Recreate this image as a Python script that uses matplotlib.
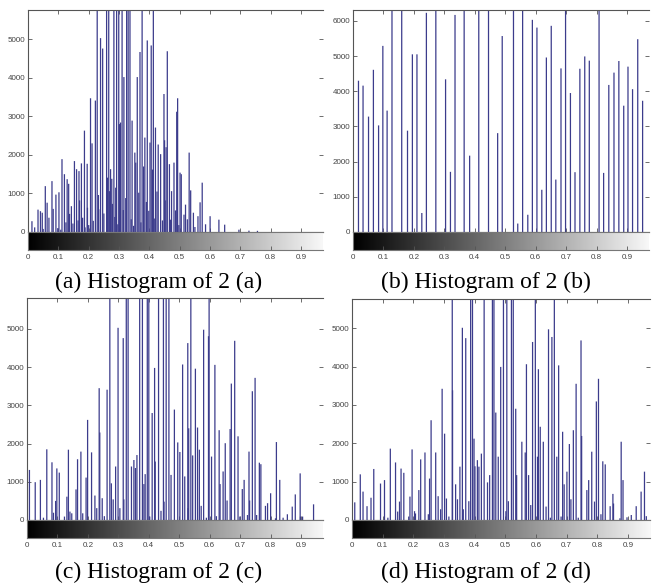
import numpy as np
import matplotlib.pyplot as plt

plt.rcParams['font.family'] = ['Liberation Sans', 'DejaVu Sans']

# bin positions / counts
# (bars that run off the top are given a value above the axis limit)
hist_a_x = [0.013, 0.022, 0.033, 0.041, 0.047, 0.057, 0.063, 0.069, 0.079, 0.083,
            0.092, 0.102, 0.112, 0.120, 0.129, 0.134, 0.143, 0.153, 0.160, 0.168,
            0.176, 0.186, 0.195, 0.206, 0.211, 0.222, 0.228, 0.239, 0.246, 0.259,
            0.266, 0.272, 0.283, 0.292, 0.299, 0.305, 0.310, 0.316, 0.325, 0.330,
            0.336, 0.343, 0.352, 0.360, 0.369, 0.376, 0.385, 0.393, 0.402, 0.406,
            0.413, 0.420, 0.429, 0.437, 0.448, 0.459, 0.466, 0.473, 0.481, 0.490,
            0.493, 0.501, 0.505, 0.514, 0.519, 0.531, 0.536, 0.545, 0.560, 0.567,
            0.574, 0.600, 0.629, 0.648, 0.695, 0.728, 0.756,
            0.180, 0.196, 0.238, 0.262, 0.276, 0.289, 0.301, 0.355, 0.381, 0.410,
            0.450, 0.455, 0.050, 0.098, 0.108, 0.125, 0.137, 0.148, 0.165, 0.170,
            0.188, 0.200, 0.215, 0.232, 0.250, 0.268, 0.278, 0.286, 0.296, 0.314,
            0.322, 0.340, 0.348, 0.365, 0.372, 0.390, 0.398, 0.416, 0.425, 0.443,
            0.452, 0.470, 0.486, 0.497, 0.525, 0.550, 0.585]
hist_a_y = [280, 120, 580, 540, 500, 1190, 760, 370, 1320, 600,
            970, 1030, 1890, 1500, 1370, 1250, 670, 1840, 1630, 1580,
            1780, 2630, 1770, 3470, 2300, 3410, 6200, 5030, 4760, 6200,
            6200, 1630, 6200, 6200, 6200, 2840, 6200, 4020, 6200, 6200,
            6200, 2890, 2060, 4020, 4670, 6200, 2450, 4970, 2320, 4840,
            6200, 2710, 2270, 2020, 3580, 4690, 1760, 1060, 1800, 3120,
            3470, 1540, 1500, 450, 710, 2060, 1080, 500, 410, 770,
            1280, 410, 320, 190, 60, 35, 30,
            370, 630, 590, 1410, 1380, 1150, 2800, 1800, 1700, 1620,
            2380, 2200, 80, 100, 60, 250, 470, 220, 300, 820,
            120, 180, 290, 960, 480, 1060, 730, 390, 200, 570,
            880, 330, 160, 1020, 250, 780, 550, 350, 1050, 300,
            820, 320, 560, 180, 330, 130, 200]

hist_b_x = [0.018, 0.033, 0.051, 0.067, 0.084, 0.098, 0.112, 0.128, 0.160, 0.179,
            0.195, 0.210, 0.226, 0.241, 0.272, 0.304, 0.320, 0.335, 0.365, 0.383,
            0.413, 0.445, 0.475, 0.490, 0.527, 0.541, 0.557, 0.574, 0.589, 0.604,
            0.620, 0.635, 0.651, 0.666, 0.683, 0.698, 0.714, 0.729, 0.745, 0.761,
            0.776, 0.808, 0.823, 0.840, 0.857, 0.873, 0.889, 0.903, 0.918, 0.935,
            0.951]
hist_b_y = [4300, 4160, 3280, 4610, 3030, 5290, 3450, 6500, 6500, 2880,
            5050, 5050, 540, 6230, 6500, 4340, 1710, 6170, 6500, 2170,
            6500, 6500, 2810, 5570, 6500, 240, 6500, 490, 6030, 5810,
            1200, 4960, 5860, 1490, 4650, 6500, 3950, 1700, 4640, 4990,
            4870, 6500, 1680, 4180, 4530, 4860, 3590, 4700, 4060, 5480,
            3730]

hist_c_x = [0.008, 0.027, 0.044, 0.054, 0.065, 0.082, 0.087, 0.094, 0.098, 0.106,
            0.123, 0.131, 0.136, 0.141, 0.147, 0.161, 0.166, 0.177, 0.183, 0.194,
            0.199, 0.212, 0.223, 0.229, 0.237, 0.239, 0.247, 0.254, 0.263, 0.272,
            0.277, 0.283, 0.291, 0.299, 0.305, 0.316, 0.318, 0.326, 0.332, 0.343,
            0.351, 0.356, 0.361, 0.370, 0.379, 0.384, 0.388, 0.395, 0.400, 0.403,
            0.411, 0.419, 0.421, 0.432, 0.440, 0.448, 0.450, 0.457, 0.466, 0.473,
            0.484, 0.495, 0.502, 0.511, 0.518, 0.528, 0.529, 0.531, 0.538, 0.544,
            0.553, 0.560, 0.566, 0.572, 0.580, 0.589, 0.596, 0.598, 0.606, 0.617,
            0.622, 0.631, 0.634, 0.644, 0.651, 0.657, 0.667, 0.671, 0.682, 0.693,
            0.699, 0.707, 0.713, 0.724, 0.729, 0.731, 0.740, 0.749, 0.754, 0.763,
            0.768, 0.783, 0.790, 0.800, 0.816, 0.819, 0.830, 0.841, 0.855, 0.871,
            0.881, 0.897, 0.898, 0.905, 0.941]
hist_c_y = [1310, 990, 1050, 60, 1850, 1510, 190, 500, 1350, 1240,
            90, 610, 1840, 220, 175, 800, 1590, 1790, 175, 1110,
            2620, 1770, 640, 310, 3450, 2290, 570, 100, 3410, 6200,
            960, 540, 1400, 5030, 310, 4760, 540, 6200, 6200, 1400,
            1570, 1360, 1700, 6200, 6200, 940, 1200, 6200, 6200, 90,
            2800, 3980, 1530, 6200, 240, 6200, 480, 6200, 6200, 1180,
            2890, 2030, 1780, 4070, 1140, 4630, 310, 2400, 6200, 1690,
            3960, 2420, 1840, 370, 4980, 60, 4810, 6200, 1660, 4060,
            100, 2350, 940, 1270, 2010, 510, 2380, 3570, 4690, 2190,
            90, 810, 1050, 130, 1790, 510, 3370, 3720, 130, 1500,
            1460, 370, 440, 700, 45, 2040, 1050, 60, 150, 350,
            670, 1220, 90, 90, 410]

hist_d_x = [0.009, 0.027, 0.036, 0.049, 0.062, 0.071, 0.093, 0.106, 0.117, 0.125,
            0.142, 0.149, 0.155, 0.160, 0.169, 0.185, 0.189, 0.196, 0.204, 0.207,
            0.218, 0.224, 0.238, 0.249, 0.253, 0.258, 0.273, 0.281, 0.289, 0.294,
            0.302, 0.308, 0.316, 0.327, 0.328, 0.338, 0.344, 0.352, 0.360, 0.363,
            0.371, 0.381, 0.387, 0.393, 0.398, 0.401, 0.409, 0.414, 0.422, 0.431,
            0.442, 0.449, 0.458, 0.463, 0.469, 0.477, 0.485, 0.494, 0.502, 0.505,
            0.510, 0.520, 0.526, 0.534, 0.537, 0.554, 0.565, 0.569, 0.576, 0.583,
            0.589, 0.598, 0.605, 0.608, 0.614, 0.624, 0.633, 0.641, 0.647, 0.652,
            0.660, 0.668, 0.674, 0.682, 0.687, 0.692, 0.701, 0.709, 0.714, 0.722,
            0.731, 0.738, 0.747, 0.749, 0.766, 0.772, 0.782, 0.791, 0.797, 0.804,
            0.812, 0.818, 0.826, 0.842, 0.851, 0.853, 0.874, 0.878, 0.884, 0.897,
            0.911, 0.927, 0.943, 0.954, 0.960]
hist_d_y = [460, 1190, 740, 360, 580, 1330, 950, 1040, 60, 1860,
            1500, 220, 480, 1340, 1230, 90, 610, 1840, 230, 170,
            780, 1580, 1760, 150, 1080, 2600, 1760, 620, 280, 3420,
            2250, 560, 90, 6200, 3380, 930, 540, 1390, 5010, 280,
            4740, 490, 6200, 6200, 2120, 1400, 1560, 1390, 1730, 6200,
            980, 1170, 6200, 6200, 2800, 1650, 3990, 6200, 230, 6200,
            490, 6200, 6200, 2900, 1170, 2040, 1760, 4060, 1170, 390,
            4640, 6200, 1650, 3930, 2430, 2040, 350, 4970, 60, 4770,
            6200, 1650, 4030, 90, 2300, 930, 1260, 1980, 540, 2340,
            3550, 60, 4680, 2190, 780, 1040, 1780, 480, 3090, 3680,
            150, 1530, 1450, 360, 680, 430, 45, 2040, 1040, 70,
            130, 360, 740, 1260, 100]

yticks_small = [0, 1000, 2000, 3000, 4000, 5000]
yticks_b = [0, 1000, 2000, 3000, 4000, 5000, 6000]
xticks = [0, 0.1, 0.2, 0.3, 0.4, 0.5, 0.6, 0.7, 0.8, 0.9]
xtick_labels = ['0', '0.1', '0.2', '0.3', '0.4', '0.5', '0.6', '0.7', '0.8', '0.9']
captions = ['(a) Histogram of 2 (a)', '(b) Histogram of 2 (b)',
            '(c) Histogram of 2 (c)', '(d) Histogram of 2 (d)']

W, H = 654, 585
fig = plt.figure(figsize=(W / 100, H / 100), dpi=100)


def box(l, t, r, b):
    # pixel box -> figure fraction
    return [l / W, 1 - b / H, (r - l) / W, (b - t) / H]


# left, top, right, zero line, bar bottom (pixels) ; ylim top ; caption x, baseline
layout = [
    (hist_a_x, hist_a_y, yticks_small, 5760, (28, 10, 323, 232, 250), (159, 288)),
    (hist_b_x, hist_b_y, yticks_b, 6310, (353, 10, 649, 232, 250), (486, 288)),
    (hist_c_x, hist_c_y, yticks_small, 5810, (27, 298, 323, 520, 538), (159, 578)),
    (hist_d_x, hist_d_y, yticks_small, 5760, (352, 299, 650, 520, 538), (486, 578)),
]

line_col = '#3c3c8c'
edge = '#555555'
grad = np.linspace(0, 1, 256)[None, :]

for i, (hx, hy, yt, ytop, (L, T, R, Z, B), (cx, cy)) in enumerate(layout):
    ax = fig.add_axes(box(L, T, R, Z))
    ax.vlines(hx, 0, hy, colors=line_col, linewidth=0.9, snap=False)
    ax.set_xlim(0, 0.972)
    ax.set_ylim(0, ytop)
    ax.set_xticks(xticks)
    ax.set_yticks(yt)
    ax.set_yticklabels([str(v) for v in yt])
    ax.tick_params(direction='in', length=3, width=0.6, color=edge, labelsize=5.8,
                   labelcolor='#444444', top=True, right=True, labelbottom=False, pad=2)
    for s in ax.spines.values():
        s.set_color(edge)
        s.set_linewidth(0.8)
    ax.spines['right'].set_visible(False)

    cax = fig.add_axes(box(L, Z, R, B))
    cax.imshow(grad, cmap='gray', aspect='auto', extent=(0, 1, 0, 1), vmin=0, vmax=1)
    cax.set_xlim(0, 0.972)
    cax.set_ylim(0, 1)
    cax.set_yticks([])
    cax.set_xticks(xticks)
    cax.set_xticklabels(xtick_labels)
    cax.tick_params(direction='in', length=3, width=0.6, color=edge, labelsize=5.8,
                    labelcolor='#444444', pad=3)
    for s in cax.spines.values():
        s.set_color('#777777')
        s.set_linewidth(0.8)
    cax.spines['right'].set_visible(False)

    fig.text(cx / W, 1 - cy / H, captions[i], ha='center', va='baseline',
             fontsize=17, family=['Liberation Serif', 'DejaVu Serif'])

fig.savefig('out.png', dpi=100)
